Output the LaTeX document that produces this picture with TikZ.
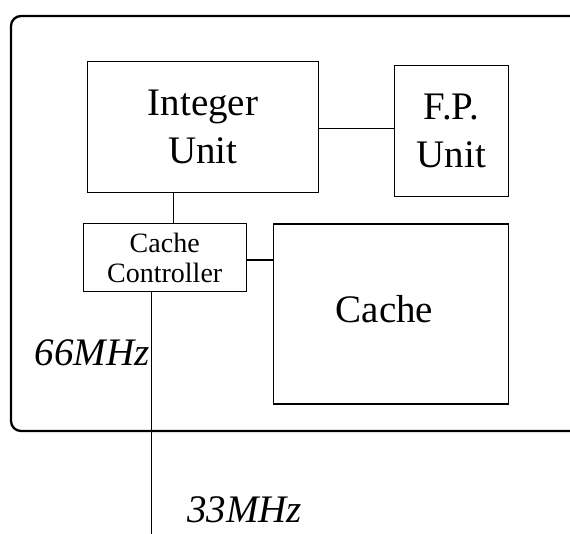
\documentclass[tikz,border=0pt]{standalone}
\usepackage{fontspec}
\setmainfont{Liberation Serif}
\begin{document}
\begin{tikzpicture}[x=1pt,y=-1pt,
  unitbox/.style={draw, line width=1.1pt, inner sep=0pt, align=center,
    font=\fontsize{39}{48}\selectfont},
  ccbox/.style={draw, line width=1.1pt, inner sep=0pt, align=center,
    font=\fontsize{28}{30}\selectfont},
  wire/.style={line width=1.1pt},
  freq/.style={font=\fontsize{39}{46}\selectfont\itshape, inner sep=0pt}]
\useasboundingbox (0,0) rectangle (570,533);
\clip (0,0) rectangle (570,533);
\draw[line width=2.3pt, rounded corners=10pt] (640,16) -- (11,16) -- (11,431) -- (640,431);
\node[unitbox, minimum width=230.6pt, minimum height=131.3pt] (iu) at (203,126.7) {Integer\\Unit};
\node[unitbox, minimum width=113.7pt, minimum height=131pt] (fp) at (451.2,131.2) {F.P.\\Unit};
\node[ccbox, minimum width=162.7pt, minimum height=68pt] (cc) at (164.7,257.7) {Cache\\Controller};
\node[draw, line width=1.1pt, minimum width=235pt, minimum height=180pt] (cache) at (390.6,314) {};
\node[font=\fontsize{39}{46}\selectfont, inner sep=0pt, anchor=base] (cachetxt) at (384.5,322.7) {Cache};
\coordinate (busend) at (151.5,540);
\draw[wire] (iu.east |- 0,128.3) -- (fp.west |- 0,128.3);
\draw[wire] (iu.south -| 173.5,0) -- (cc.north -| 173.5,0);
\draw[wire] (cc.east |- 0,260) -- (cache.west |- 0,260);
\draw[wire] (cc.south -| busend) -- (busend);
\node[freq, anchor=base west] (f66) at (34.5,365) {66MHz};
\node[freq, anchor=base west] (f33) at (187,522) {33MHz};
\end{tikzpicture}
\end{document}
